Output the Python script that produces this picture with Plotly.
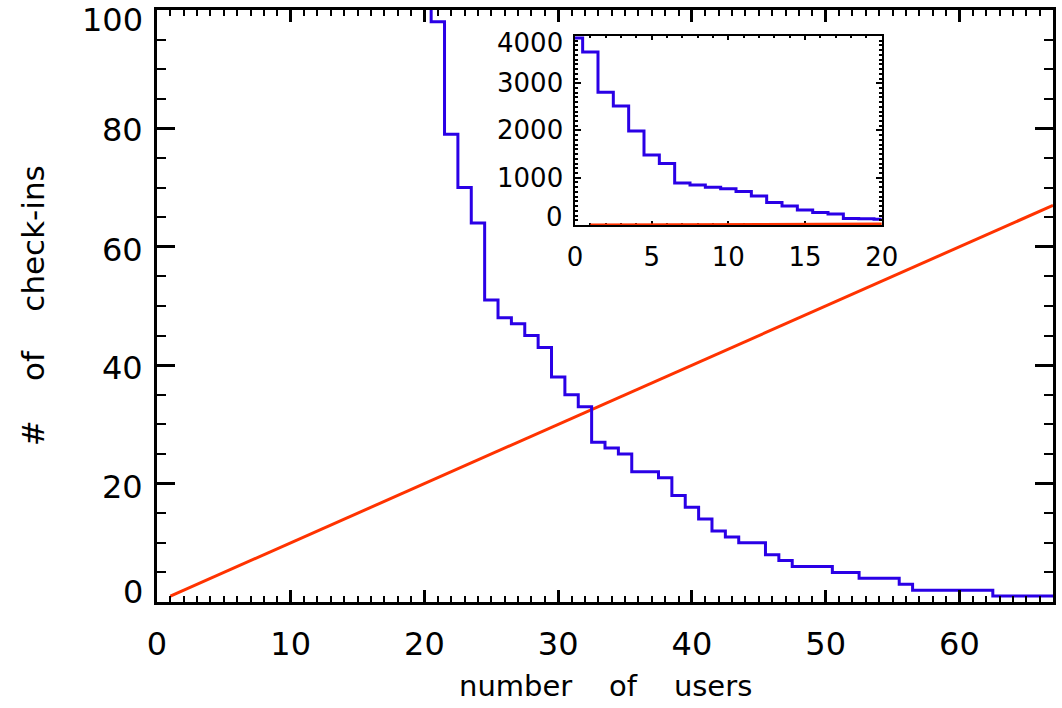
import plotly.graph_objects as go

# rank of user (0 = most active) and number of check-ins
users = list(range(68))
checkins = [3960, 3660, 2810, 2520, 1990, 1480, 1300, 890, 845, 800,
            770, 710, 615, 475, 400, 320, 265, 232, 140, 130,
            120, 98, 79, 70, 64, 51, 48, 47, 45, 43,
            38, 35, 33, 27, 26, 25, 22, 22, 21, 18,
            16, 14, 12, 11, 10, 10, 8, 7, 6, 6,
            6, 5, 5, 4, 4, 4, 3, 2, 2, 2,
            2, 2, 2, 1, 1, 1, 1, 1]

# one-to-one reference line
line_x = [1, 67]
line_y = [1, 67]

main_xticks = [0, 10, 20, 30, 40, 50, 60]
main_yticks = [0, 20, 40, 60, 80, 100]
inset_xticks = [0, 5, 10, 15, 20]
inset_yticks = [0, 1000, 2000, 3000, 4000]

BLUE = "#2a00e6"
RED = "#ff3300"
FONT = "DejaVu Sans"

fig = go.Figure()

fig.add_trace(go.Scatter(x=line_x, y=line_y, mode="lines",
                         line=dict(color=RED, width=3), xaxis="x", yaxis="y"))
fig.add_trace(go.Scatter(x=users, y=checkins, mode="lines",
                         line=dict(color=BLUE, width=3, shape="hvh"),
                         xaxis="x", yaxis="y"))
fig.add_trace(go.Scatter(x=line_x, y=line_y, mode="lines",
                         line=dict(color=RED, width=3), xaxis="x2", yaxis="y2"))
fig.add_trace(go.Scatter(x=users, y=checkins, mode="lines",
                         line=dict(color=BLUE, width=3, shape="hvh"),
                         xaxis="x2", yaxis="y2"))

axis_common = dict(showline=True, linecolor="black", mirror="allticks",
                   ticks="inside", tickcolor="black", showgrid=False,
                   zeroline=False, automargin=False)

fig.update_layout(
    width=1062, height=708,
    margin=dict(l=157, r=9, t=10, b=106),
    plot_bgcolor="white", paper_bgcolor="white",
    showlegend=False,
    font=dict(family=FONT, color="black"),
    xaxis=dict(range=[0, 67], tickvals=main_xticks, ticklen=12, tickwidth=2.5,
               linewidth=2.5, tickfont=dict(size=32), ticklabelstandoff=12,
               minor=dict(dtick=1, ticklen=6, tickwidth=2, ticks="inside",
                          tickcolor="black"),
               **axis_common),
    yaxis=dict(range=[0, 100], tickvals=main_yticks, ticklen=18, tickwidth=2.5,
               linewidth=2.5, showticklabels=False,
               minor=dict(dtick=5, ticklen=9, tickwidth=2, ticks="inside",
                          tickcolor="black"),
               **axis_common),
    xaxis2=dict(domain=[0.4665, 0.8088], anchor="y2", range=[0, 20],
                tickvals=inset_xticks, ticklen=4, tickwidth=2, linewidth=2,
                tickfont=dict(size=26), ticklabelstandoff=8, layer="below traces",
                minor=dict(dtick=1, ticklen=2, tickwidth=1.5, ticks="inside",
                           tickcolor="black"),
                **axis_common),
    yaxis2=dict(domain=[0.6368, 0.9561], anchor="x2", range=[0, 4000],
                tickvals=inset_yticks, ticklen=6, tickwidth=2, linewidth=2,
                showticklabels=False,
                minor=dict(dtick=100, ticklen=3, tickwidth=1.5, ticks="inside",
                           tickcolor="black"),
                **axis_common),
)

# y tick labels (IDL style: end labels pulled inside the axis)
main_shift = [10, -3, -3, -3, -2, -10]
for v, s in zip(main_yticks, main_shift):
    fig.add_annotation(x=0, xref="paper", y=v, yref="y", text=str(v),
                       showarrow=False, xanchor="right", yanchor="middle",
                       xshift=-12, yshift=s, font=dict(size=32))
inset_shift = [8, 0, 0, 0, -7]
for v, s in zip(inset_yticks, inset_shift):
    fig.add_annotation(x=0, xref="x2", y=v, yref="y2", text=str(v),
                       showarrow=False, xanchor="right", yanchor="middle",
                       xshift=-10, yshift=s, font=dict(size=26))

# axis titles
fig.add_annotation(x=0.5, xref="paper", y=-0.142, yref="paper",
                   xanchor="center", yanchor="middle",
                   text="number\u00a0\u00a0\u00a0 of\u00a0\u00a0\u00a0 users",
                   showarrow=False, font=dict(size=29))
fig.add_annotation(x=-0.138, xref="paper", y=0.5, yref="paper",
                   xanchor="center", yanchor="middle",
                   text="#\u00a0\u00a0\u00a0 of\u00a0\u00a0\u00a0 check-ins",
                   showarrow=False, textangle=-90, font=dict(size=31))

# drop the page's default body margin so the figure sits at the window corner
fig.write_html("out.html", config={"displayModeBar": False},
               post_script="document.body.style.margin='0';"
                           "document.body.style.overflow='hidden';")
